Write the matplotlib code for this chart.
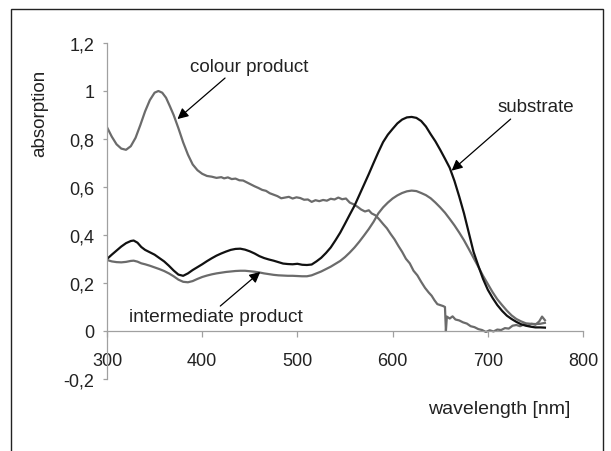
import matplotlib
matplotlib.use("Agg")
import matplotlib.pyplot as plt
from matplotlib.patches import Rectangle

plt.rcParams['font.family'] = ['Liberation Sans', 'DejaVu Sans']

# ---------------- data ----------------
colour_wl = [300, 305, 310, 315, 320, 325, 330, 335, 340, 345, 350, 354, 358, 362, 366, 370,
             375, 380, 385, 390, 395, 400, 405, 410, 415, 420, 423, 427, 431, 435, 439, 443,
             447, 451, 455, 459, 463, 467, 471, 475, 479, 483, 487, 491, 495, 499, 503, 507,
             511, 515, 519, 523, 527, 531, 535, 539, 543, 547, 551, 555, 559, 563, 567, 571,
             575, 578, 582, 586, 590, 594, 598, 602, 606, 610, 614, 618, 622, 626, 630, 634,
             638, 641, 644, 647, 650, 653, 655, 656, 657, 660, 663, 666, 670, 674, 678, 682,
             686, 690, 694, 698, 702, 706, 710, 714, 718, 722, 726, 730, 734, 738, 742, 746,
             750, 754, 757, 760]
colour_abs = [0.849, 0.810, 0.778, 0.760, 0.755, 0.770, 0.805, 0.858, 0.915, 0.962, 0.993, 1.000,
              0.993, 0.972, 0.937, 0.900, 0.845, 0.786, 0.735, 0.694, 0.670, 0.655, 0.646, 0.643,
              0.638, 0.641, 0.636, 0.640, 0.633, 0.635, 0.628, 0.627, 0.619, 0.611, 0.603, 0.596,
              0.588, 0.584, 0.574, 0.568, 0.562, 0.553, 0.556, 0.559, 0.552, 0.557, 0.554, 0.547,
              0.548, 0.538, 0.545, 0.541, 0.546, 0.543, 0.551, 0.548, 0.556, 0.549, 0.552, 0.535,
              0.528, 0.518, 0.506, 0.498, 0.503, 0.490, 0.482, 0.465, 0.446, 0.428, 0.404, 0.382,
              0.355, 0.330, 0.301, 0.282, 0.251, 0.232, 0.205, 0.180, 0.160, 0.147, 0.128, 0.112,
              0.108, 0.104, 0.100, 0.000, 0.060, 0.052, 0.061, 0.048, 0.044, 0.036, 0.031, 0.020,
              0.016, 0.008, 0.004, -0.004, 0.003, -0.002, 0.006, 0.004, 0.012, 0.010, 0.022, 0.025,
              0.020, 0.028, 0.022, 0.030, 0.026, 0.040, 0.060, 0.045]

substrate_wl = [300, 305, 310, 315, 320, 325, 328, 332, 336, 340, 345, 350, 355, 360, 365, 370,
                375, 380, 385, 390, 395, 400, 405, 410, 415, 420, 425, 430, 435, 440, 445, 450,
                455, 460, 465, 470, 475, 480, 485, 490, 495, 500, 505, 510, 515, 520, 525, 530,
                535, 540, 545, 550, 555, 560, 565, 570, 575, 580, 585, 590, 595, 600, 605, 610,
                615, 620, 625, 630, 635, 640, 645, 650, 655, 660, 665, 670, 675, 680, 685, 690,
                695, 700, 705, 710, 715, 720, 725, 730, 735, 740, 745, 750, 755, 760]
substrate_abs = [0.300, 0.318, 0.335, 0.352, 0.366, 0.375, 0.377, 0.368, 0.350, 0.338, 0.328, 0.318,
                 0.304, 0.290, 0.272, 0.252, 0.235, 0.230, 0.240, 0.254, 0.266, 0.278, 0.291, 0.303,
                 0.314, 0.323, 0.331, 0.338, 0.342, 0.343, 0.339, 0.332, 0.323, 0.312, 0.304, 0.298,
                 0.293, 0.287, 0.281, 0.279, 0.278, 0.280, 0.276, 0.275, 0.277, 0.290, 0.305, 0.325,
                 0.348, 0.378, 0.410, 0.447, 0.485, 0.522, 0.566, 0.610, 0.654, 0.700, 0.745, 0.787,
                 0.818, 0.842, 0.865, 0.881, 0.890, 0.892, 0.888, 0.875, 0.852, 0.820, 0.790, 0.755,
                 0.718, 0.680, 0.625, 0.560, 0.490, 0.410, 0.330, 0.272, 0.217, 0.172, 0.138, 0.108,
                 0.084, 0.064, 0.050, 0.038, 0.028, 0.022, 0.018, 0.015, 0.015, 0.014]

inter_wl = substrate_wl
inter_abs = [0.296, 0.290, 0.287, 0.286, 0.288, 0.292, 0.293, 0.289, 0.282, 0.278, 0.272, 0.265,
             0.258, 0.250, 0.240, 0.228, 0.214, 0.205, 0.203, 0.208, 0.217, 0.225, 0.231, 0.236,
             0.240, 0.243, 0.246, 0.248, 0.250, 0.251, 0.251, 0.249, 0.247, 0.244, 0.240, 0.237,
             0.234, 0.232, 0.231, 0.230, 0.230, 0.229, 0.228, 0.228, 0.232, 0.240, 0.248, 0.258,
             0.268, 0.280, 0.292, 0.308, 0.327, 0.348, 0.372, 0.398, 0.425, 0.455, 0.490, 0.515,
             0.535, 0.552, 0.565, 0.575, 0.582, 0.585, 0.583, 0.575, 0.566, 0.553, 0.535, 0.515,
             0.493, 0.467, 0.440, 0.410, 0.378, 0.342, 0.305, 0.268, 0.230, 0.196, 0.162, 0.132,
             0.108, 0.085, 0.065, 0.050, 0.040, 0.032, 0.030, 0.029, 0.030, 0.034]

x_ticks = [300, 400, 500, 600, 700, 800]
y_ticks = [-0.2, 0, 0.2, 0.4, 0.6, 0.8, 1.0, 1.2]
y_tick_labels = ['-0,2', '0', '0,2', '0,4', '0,6', '0,8', '1', '1,2']

# ---------------- figure ----------------
W, H = 611, 452
fig = plt.figure(figsize=(W / 100, H / 100), dpi=100)
ax = fig.add_axes([107 / W, 1 - 380 / H, (583 - 107) / W, (380 - 44) / H])

gray = '#6b6b6b'
ax.plot(colour_wl, colour_abs, color=gray, lw=1.6, solid_joinstyle='round')
ax.plot(inter_wl, inter_abs, color=gray, lw=1.6)
ax.plot(substrate_wl, substrate_abs, color='#111111', lw=1.6)

ax.set_xlim(300, 800)
ax.set_ylim(-0.2, 1.2)

for s in ['top', 'right']:
    ax.spines[s].set_visible(False)
ax.spines['bottom'].set_position(('data', 0))
for s in ['left', 'bottom']:
    ax.spines[s].set_color('#a0a0a0')
    ax.spines[s].set_linewidth(0.9)

txt = '#222222'
ax.set_xticks(x_ticks)
ax.set_yticks(y_ticks)
ax.set_yticklabels(y_tick_labels)
ax.tick_params(axis='x', direction='out', length=4, width=0.9, color='#a0a0a0',
               pad=11, labelsize=13, labelcolor=txt)
ax.tick_params(axis='y', direction='out', length=3, width=0.9, color='#a0a0a0',
               pad=6, labelsize=13, labelcolor=txt)

# axis labels
fig.text(40 / W, 1 - 113 / H, 'absorption', rotation=90, ha='center', va='center',
         fontsize=13.5, color=txt)
fig.text(499 / W, 1 - 410 / H, 'wavelength [nm]', ha='center', va='center',
         fontsize=14, color=txt)

# annotations
arrow = dict(arrowstyle='-|>', color='black', lw=0.9, shrinkA=0, shrinkB=0,
             mutation_scale=16)
ax.text(449, 1.10, 'colour product', ha='center', va='center', fontsize=13.5, color=txt)
ax.annotate('', xy=(374, 0.883), xytext=(424, 1.054), arrowprops=arrow)

ax.text(750, 0.935, 'substrate', ha='center', va='center', fontsize=13.5, color=txt)
ax.annotate('', xy=(662, 0.668), xytext=(724, 0.883), arrowprops=arrow)

ax.text(414, 0.062, 'intermediate product', ha='center', va='center', fontsize=13.8,
        color=txt)
ax.annotate('', xy=(461, 0.246), xytext=(419, 0.104), arrowprops=arrow)

# outer frame
fig.add_artist(Rectangle((11 / W, -0.05), (603 - 11) / W, 1.05 - 10 / H,
                         transform=fig.transFigure, fill=False, edgecolor='#222222',
                         lw=1.0, clip_on=False))

fig.savefig('out.png', dpi=100)
